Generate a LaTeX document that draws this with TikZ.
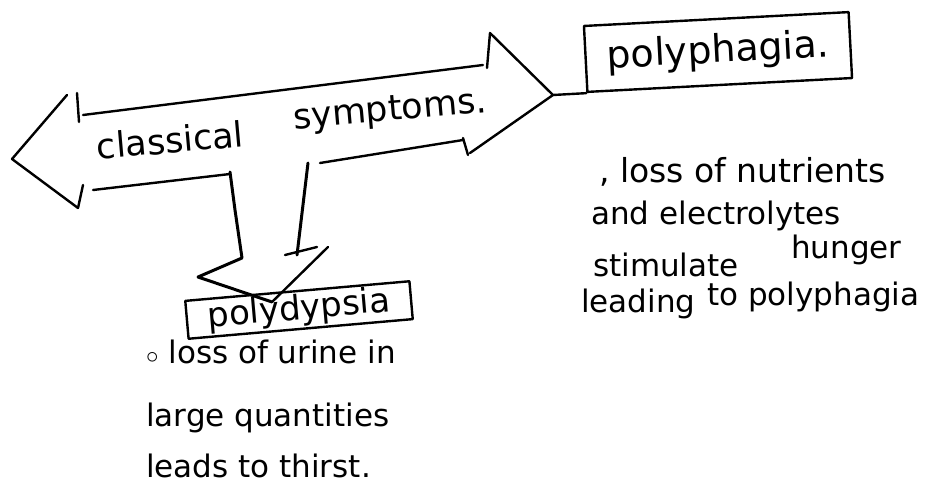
\documentclass[tikz,border=0pt]{standalone}
\usepackage{fontspec}
\setmainfont{DejaVu Sans}
\usetikzlibrary{positioning}
\begin{document}
\begin{tikzpicture}[x=1pt,y=-1pt,line width=2.4pt,line cap=round,line join=round,
    hand/.style={font=\fontsize{#1}{#1}\selectfont},
    labelbox/.style={draw,inner sep=1pt},
    note/.style={anchor=west,inner sep=0pt,hand=31}]
                \useasboundingbox (0,0) rectangle (952,503);
                \coordinate (ltip) at (12,159);
                \coordinate (rtip) at (553,95);
                \coordinate (dtip) at (272,302);
                \node[hand=35,rotate=5,inner sep=0pt] (sym_1) at (170,140) {classical};
                \node[hand=35,rotate=5,inner sep=0pt] (sym_2) at (390,112) {symptoms.};
                \node[labelbox,hand=38,rotate=3,minimum width=265pt,minimum height=66pt] (ph) at (718,52) {polyphagia.};
                \node[labelbox,hand=34,rotate=5,minimum width=225pt,minimum height=38pt] (pd) at (299,310) {polydypsia};
                \node[note,hand=33] (n_1) at (598,172) {, loss of nutrients};
                \node[note] (n_2) at (590,216) {and electrolytes};
                \node[note] (n_3) at (592,265) {stimulate};
                \node[note] (n_4) at (790,250) {hunger};
                \node[note] (n_5) at (580,304) {leading};
                \node[note] (n_6) at (706,297) {to polyphagia};
                \node[note] (u_1) at (145,352) {$\circ$ loss of urine in};
                \node[note] (u_2) at (145,418) {large quantities};
                \node[note] (u_3) at (145,466) {leads to thirst.};
                % double arrow
                \draw (67,95) -- (ltip) -- (78,208);
                \draw (77,93) -- (79,122);
                \draw (83,185) -- (78,208);
                \draw (83,115) -- (483,65);
                \draw (487,68) -- (490,33) -- (rtip) -- (470,153);
                \draw (463,138) -- (468,155);
                \draw (93,190) -- (230,174);
                \draw (320,163) -- (463,140);
                \draw (rtip) -- (ph.south west);
                % down arrow
                \draw[line width=3pt] (230,172) -- (235,210) -- (242,258) -- (198,277) -- (dtip);
                \draw[line width=3pt] (308,163) -- (297,255);
                \draw (285,255) -- (317,247);
                \draw (328,247) -- (dtip);
\end{tikzpicture}
\end{document}
